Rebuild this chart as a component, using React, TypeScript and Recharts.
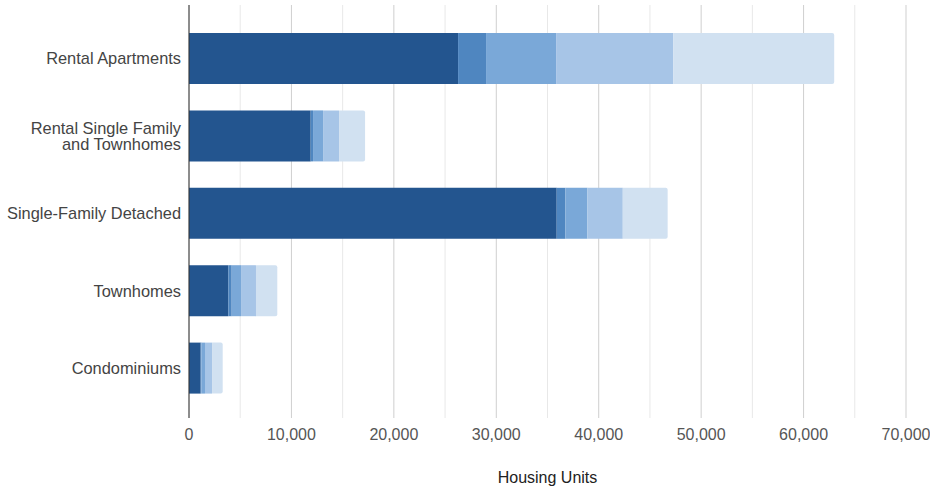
import React from 'react';
import { BarChart, Bar, XAxis, YAxis, CartesianGrid } from 'recharts';

const categories = [
  'Rental Apartments',
  'Rental Single Family\nand Townhomes',
  'Single-Family Detached',
  'Townhomes',
  'Condominiums',
];
const series1 = [26270, 11880, 35900, 3840, 1140];
const series2 = [2730, 230, 850, 330, 60];
const series3 = [6840, 980, 2150, 910, 360];
const series4 = [11430, 1560, 3450, 1460, 690];
const series5 = [15720, 2540, 4380, 2080, 1040];
const xTicks = [0, 5000, 10000, 15000, 20000, 25000, 30000, 35000, 40000, 45000, 50000, 55000, 60000, 65000, 70000];
const colors = ['#23558f', '#4f86c0', '#7aa8d8', '#a7c5e7', '#d1e1f1'];
const keys = ['s1', 's2', 's3', 's4', 's5'];

const data = categories.map((name, i) => ({
  name,
  s1: series1[i],
  s2: series2[i],
  s3: series3[i],
  s4: series4[i],
  s5: series5[i],
}));

const FONT = '"Liberation Sans", Arial, sans-serif';

const YTick = (props: any) => {
  const { x, y, payload } = props;
  const lines = String(payload.value).split('\n');
  const first = -(lines.length - 1) * 0.5 + 0.35;
  return (
    <text x={x} y={y} textAnchor="end" fill="#444" fontSize={16.4} fontFamily={FONT}>
      {lines.map((l, i) => (
        <tspan key={i} x={x} dy={i === 0 ? `${first}em` : '1.0em'}>
          {l}
        </tspan>
      ))}
    </text>
  );
};

const fmt = (v: number) => (v % 10000 === 0 ? v.toLocaleString('en-US') : '');

const GridLine = (p: any) => {
  const idx = typeof p.index === 'number' ? p.index : 0;
  const v = xTicks[idx];
  const major = v !== undefined && v % 10000 === 0;
  return (
    <line
      key={p.key}
      x1={p.x1}
      y1={p.y1}
      x2={p.x2}
      y2={p.y2}
      stroke={major ? '#cfcfcf' : '#e8e8e8'}
      strokeWidth={1}
      fill="none"
    />
  );
};

export default function App() {
  return (
    <div style={{ position: 'absolute', left: 0, top: 0, background: '#fff' }}>
      <BarChart
        width={930}
        height={486}
        data={data}
        layout="vertical"
        margin={{ top: 5, right: 24, left: 0, bottom: 0 }}
        barSize={51}
      >
        <CartesianGrid horizontal={false} vertical={GridLine} />
        <XAxis
          type="number"
          domain={[0, 70000]}
          ticks={xTicks}
          interval={0}
          tickFormatter={fmt}
          axisLine={false}
          tickLine={false}
          tickMargin={5}
          height={68}
          tick={{ fill: '#555', fontSize: 16, fontFamily: FONT }}
          label={{
            value: 'Housing Units',
            position: 'insideBottom',
            offset: 3,
            fill: '#222',
            fontSize: 16,
            fontFamily: FONT,
          }}
        />
        <YAxis
          type="category"
          dataKey="name"
          width={189}
          axisLine={{ stroke: '#333', strokeWidth: 1 }}
          tickLine={false}
          padding={{ top: 15, bottom: 11 }}
          tick={<YTick />}
          interval={0}
        />
        {keys.map((k, i) => (
          <Bar
            key={k}
            dataKey={k}
            stackId="a"
            fill={colors[i]}
            isAnimationActive={false}
            radius={i === keys.length - 1 ? [0, 2, 2, 0] : 0}
          />
        ))}
      </BarChart>
    </div>
  );
}
